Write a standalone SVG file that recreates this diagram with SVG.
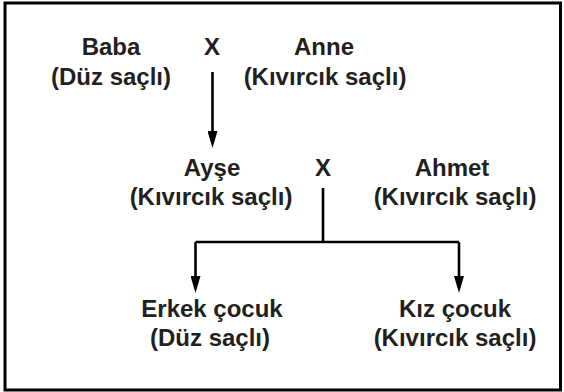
<svg xmlns="http://www.w3.org/2000/svg" width="564" height="392" viewBox="0 0 564 392">
<style>
.t{font-family:"Liberation Sans",Arial,sans-serif;font-weight:bold;font-size:24px;fill:#231f20;text-anchor:middle}
.c{stroke:#000;stroke-width:2.6;fill:none}
</style>
<defs>
<marker id="ah" markerUnits="userSpaceOnUse" markerWidth="17" markerHeight="10" refX="9" refY="5" orient="auto" viewBox="0 0 17 10">
<path d="M0,0 L17,5 L0,10 Z" fill="#000"/>
</marker>
</defs>
<rect x="5" y="3" width="555.5" height="387" fill="#fff" stroke="#000" stroke-width="3"/>
<g id="connectors">
<line class="c" x1="212.5" y1="72" x2="212.5" y2="140" marker-end="url(#ah)"/>
<path class="c" d="M323,188 V242 M195.5,242 H459"/>
<line class="c" x1="195.5" y1="242" x2="195.5" y2="285" marker-end="url(#ah)"/>
<line class="c" x1="459" y1="242" x2="459" y2="285" marker-end="url(#ah)"/>
</g>
<g id="baba"><text class="t" x="111" y="55">Baba</text><text class="t" x="111" y="85">(Düz saçlı)</text></g>
<g id="x1"><text class="t" x="212" y="55">X</text></g>
<g id="anne"><text class="t" x="324" y="55">Anne</text><text class="t" x="325" y="85">(Kıvırcık saçlı)</text></g>
<g id="ayse"><text class="t" x="212" y="176">Ayşe</text><text class="t" x="211" y="205">(Kıvırcık saçlı)</text></g>
<g id="x2"><text class="t" x="323" y="176">X</text></g>
<g id="ahmet"><text class="t" x="452" y="176">Ahmet</text><text class="t" x="455" y="205">(Kıvırcık saçlı)</text></g>
<g id="erkek"><text class="t" x="212" y="317">Erkek çocuk</text><text class="t" x="210" y="346">(Düz saçlı)</text></g>
<g id="kiz"><text class="t" x="455" y="317">Kız çocuk</text><text class="t" x="455" y="346">(Kıvırcık saçlı)</text></g>
</svg>
